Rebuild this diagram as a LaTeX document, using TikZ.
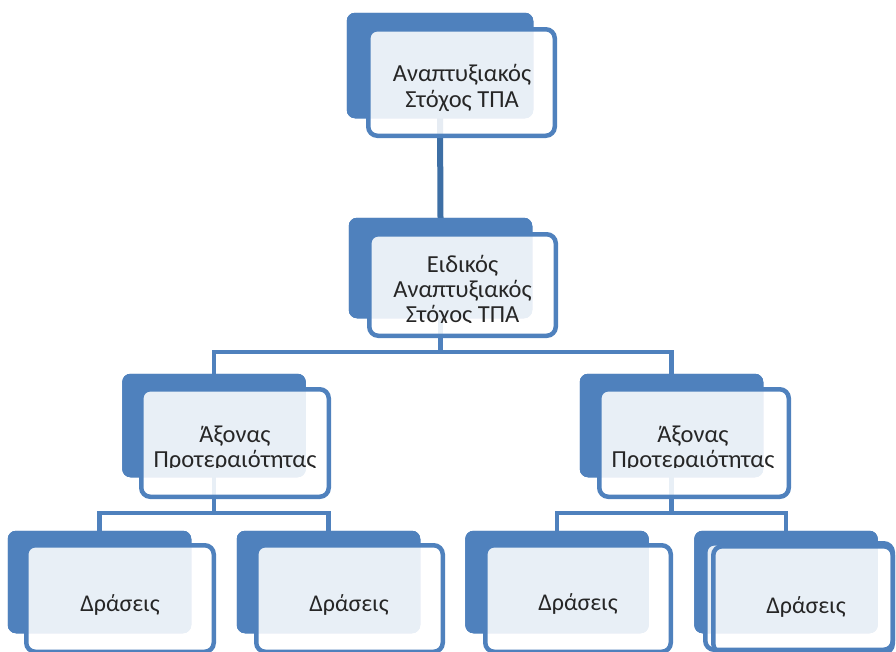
\documentclass[tikz,border=0pt]{standalone}
\usepackage{fontspec}
\setmainfont{Carlito}
\definecolor{boxblue}{HTML}{4F81BD}
\definecolor{linkblue}{HTML}{3D6FA5}
\definecolor{txt}{HTML}{262626}
\begin{document}
\begin{tikzpicture}[x=1pt,y=-1pt,
  backbox/.style={fill=boxblue, draw=boxblue, line width=0.5pt, rounded corners=8pt,
    inner sep=0pt, outer sep=0pt},
  frontbox/.style={fill=white, fill opacity=0.875, draw=boxblue, draw opacity=1,
    line width=4.5pt, rounded corners=9pt, inner sep=0pt, outer sep=0pt},
  frontline/.style={draw=boxblue, line width=4.5pt, rounded corners=9pt,
    inner sep=0pt, outer sep=0pt},
  link/.style={draw=boxblue, line width=4.5pt},
  toplink/.style={draw=linkblue, line width=6pt},
  lbl/.style={font=\fontsize{24.5}{25}\selectfont, text=txt, anchor=base, inner sep=0pt},
  lbls/.style={font=\fontsize{24}{28}\selectfont, text=txt, anchor=base, inner sep=0pt}]
\useasboundingbox (0,0) rectangle (896,651);
\clip (0,0) rectangle (896,651);

% back boxes (named, used by connectors)
\node[backbox, minimum width=186pt, minimum height=105pt] (b1) at (440,65.5) {};
\node[backbox, minimum width=183pt, minimum height=100pt] (b2) at (440.5,268) {};
\node[backbox, minimum width=183pt, minimum height=103pt] (b3) at (214,425.5) {};
\node[backbox, minimum width=183pt, minimum height=103pt] (b4) at (671.5,425.5) {};
\node[backbox, minimum width=183pt, minimum height=102pt] (c1) at (99.5,582) {};
\node[backbox, minimum width=183pt, minimum height=102pt] (c2) at (328.5,582) {};
\node[backbox, minimum width=183pt, minimum height=102pt] (c3) at (557,582) {};
\node[backbox, minimum width=183pt, minimum height=102pt] (c4) at (786,582) {};

% connectors (run behind the front boxes)
\coordinate (j1) at (440.5,352);
\coordinate (j2) at (214,513);
\coordinate (j3) at (671.5,513);
\draw[toplink] (b1.south) -- (b2.north);
\draw[link] (b2.south) -- (j1);
\draw[link] (b3.north) |- (j1) -| (b4.north);
\draw[link] (b3.south) -- (j2);
\draw[link] (c1.north) |- (j2) -| (c2.north);
\draw[link] (b4.south) -- (j3);
\draw[link] (c3.north) |- (j3) -| (c4.north);

% back boxes again, over the connector ends
\path[backbox] (b1.north west) rectangle (b1.south east);
\path[backbox] (b2.north west) rectangle (b2.south east);
\path[backbox] (b3.north west) rectangle (b3.south east);
\path[backbox] (b4.north west) rectangle (b4.south east);
\path[backbox] (c1.north west) rectangle (c1.south east);
\path[backbox] (c2.north west) rectangle (c2.south east);
\path[backbox] (c3.north west) rectangle (c3.south east);
\path[backbox] (c4.north west) rectangle (c4.south east);

% front boxes
\node[frontbox, minimum width=186.5pt, minimum height=106.5pt] (f1) at (461.5,82.5) {};
\node[frontbox, minimum width=186.5pt, minimum height=101.5pt] (f2) at (462.5,285) {};
\node[frontbox, minimum width=187.5pt, minimum height=107.5pt] (f3) at (235,443) {};
\node[frontbox, minimum width=189.5pt, minimum height=107.5pt] (f4) at (694,443) {};
\node[frontbox, minimum width=187.5pt, minimum height=106.5pt] (g1) at (120,598.5) {};
\node[frontbox, minimum width=186.5pt, minimum height=106.5pt] (g2) at (349.5,598.5) {};
\node[frontbox, minimum width=185.5pt, minimum height=106.5pt] (g3) at (578,598.5) {};
\node[frontbox, minimum width=187.5pt, minimum height=106.5pt] (g4a) at (799,596.5) {};
\node[frontline, minimum width=179.5pt, minimum height=106.5pt] (g4) at (803,599.5) {};

% texts
\node[lbl] (t1a) at (462,81) {Αναπτυξιακός};
\node[lbl] (t1b) at (462,107) {Στόχος ΤΠΑ};
\node[lbl] (t2a) at (462.5,272) {Ειδικός};
\node[lbl] (t2b) at (462.5,297) {Αναπτυξιακός};
\begin{scope}
  \clip (300,300) rectangle (600,322.5);
  \node[lbl] (t2c) at (462.5,322) {Στόχος ΤΠΑ};
\end{scope}
\node[lbl] (t3a) at (235,442) {Άξονας};
\begin{scope}
  \clip (100,445) rectangle (800,467.5);
  \node[lbl] (t3b) at (235,467) {Προτεραιότητας};
  \node[lbl] (t4b) at (693,467) {Προτεραιότητας};
\end{scope}
\node[lbl] (t4a) at (693,442) {Άξονας};
\node[lbls] (d1) at (120,611) {Δράσεις};
\node[lbls] (d2) at (349,611) {Δράσεις};
\node[lbls] (d3) at (578,610) {Δράσεις};
\node[lbls] (d4) at (806,613) {Δράσεις};
\end{tikzpicture}
\end{document}
